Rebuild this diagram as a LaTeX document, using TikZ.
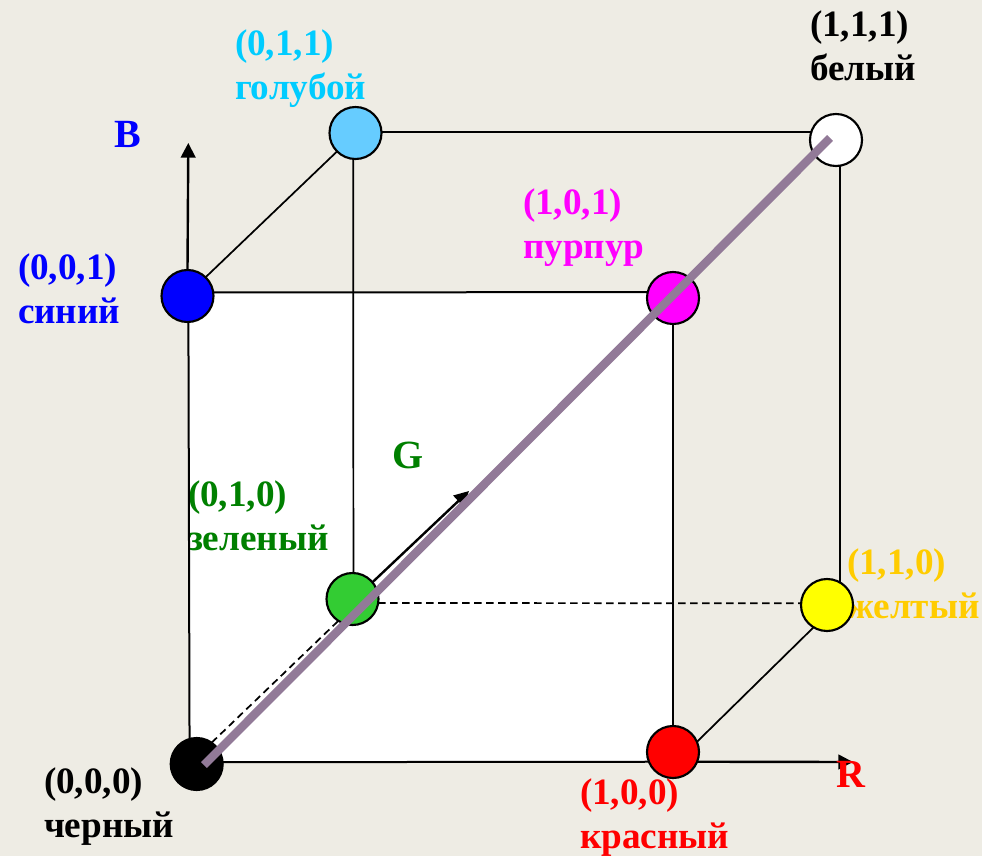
\documentclass[tikz,border=0pt]{standalone}
\usepackage{fontspec}
\setmainfont{Liberation Serif}
\usetikzlibrary{arrows.meta}
\definecolor{bgc}{HTML}{EEECE4}
\definecolor{diagc}{HTML}{927A98}
\definecolor{lgreen}{HTML}{008000}
\definecolor{lcyan}{HTML}{00CCFF}
\definecolor{lyellow}{HTML}{FFCC00}
\definecolor{cgreen}{HTML}{33CC33}
\definecolor{ccyan}{HTML}{66CCFF}
\definecolor{pmag}{HTML}{FF00FF}
\definecolor{pyel}{HTML}{FFFF00}
\definecolor{pred}{HTML}{FF0000}
\definecolor{pblue}{HTML}{0000FF}
\tikzset{
  x=0.75pt,y=-0.75pt,
  lab/.style={font=\fontsize{27.9}{33}\selectfont\bfseries,align=left,anchor=north west,inner sep=0pt,outer sep=0pt},
  axlab/.style={font=\fontsize{30}{33}\selectfont\bfseries,anchor=north west,inner sep=0pt,outer sep=0pt},
  vertex/.style={circle,draw=black,line width=1.6pt,minimum size=39pt,inner sep=0pt,outer sep=0pt},
  edge/.style={draw=black,line width=1.5pt},
  thinedge/.style={draw=black,line width=1.3pt},
  hidden/.style={draw=black,line width=1.3pt,dash pattern=on 5.5pt off 3.5pt},
  axis/.style={draw=black,line width=1.8pt,-{Triangle[length=11pt,width=11pt]}},
  diag/.style={draw=diagc,line width=6.3pt}
}
\begin{document}
\begin{tikzpicture}
\useasboundingbox (0,0) rectangle (982,856);
\fill[bgc] (0,0) rectangle (982,856);
\fill[white] (189,292) rectangle (673,762);
% labels
\node[lab,text=lcyan] (lc) at (235,30) {(0,1,1)\\голубой};
\node[lab,text=black] (lw) at (810,11) {(1,1,1)\\белый};
\node[lab,text=pmag] (lm) at (523,189) {(1,0,1)\\пурпур};
\node[lab,text=pblue] (lb) at (18,254) {(0,0,1)\\синий};
\node[lab,text=lgreen] (lg) at (188,481) {(0,1,0)\\зеленый};
\node[lab,text=lyellow] (ly) at (847,549) {(1,1,0)\\желтый};
\node[lab,text=black] (lk) at (44,768) {(0,0,0)\\черный};
\node[lab,text=pred] (lr) at (580,778.5) {(1,0,0)\\красный};
\node[axlab,text=pblue] (axb) at (114,121) {B};
\node[axlab,text=lgreen] (axg) at (392,442) {G};
% vertices
\node[vertex,fill=black] (k) at (196.7,764) {};
\node[vertex,fill=pred] (r) at (673,752) {};
\node[vertex,fill=pyel] (y) at (827,605) {};
\node[vertex,fill=white] (w) at (836,140) {};
\node[vertex,fill=pmag] (m) at (673,298) {};
\node[vertex,fill=pblue] (b) at (187.5,296) {};
\node[vertex,fill=ccyan] (c) at (355.5,133) {};
\node[vertex,fill=cgreen] (g) at (352.5,599) {};
\coordinate (tipB) at (188.3,143);
\coordinate (tipG) at (469,491);
\coordinate (tipR) at (853,762);
\coordinate (dA) at (204,765);
\coordinate (dB) at (830,138);
% edges
\draw[edge] (b.8) -- (m.167);
\draw[edge] (k.4) -- (r.202);
\draw[edge] (b.272) -- (k.106);
\draw[edge] (m.south) -- (r.north);
\draw[thinedge] (c.2) -- (w.162);
\draw[thinedge] (c.265) -- (g.88);
\draw[thinedge] (w.279) -- (y.60);
\draw[thinedge] (b.46) -- (c.225);
\draw[thinedge] (r.23) -- (y.239);
\draw[hidden] (g.-9) -- (y.176);
\draw[hidden] (k.55) -- (g.237);
\draw[axis] (b.north) -- (tipB);
\draw[axis] (g.40) -- (tipG);
\draw[axis] (r.-22.6) -- (tipR);
\draw[diag] (dA) -- (dB);
\node[axlab,text=pred] (axr) at (836,761) {R};
\end{tikzpicture}
\end{document}
